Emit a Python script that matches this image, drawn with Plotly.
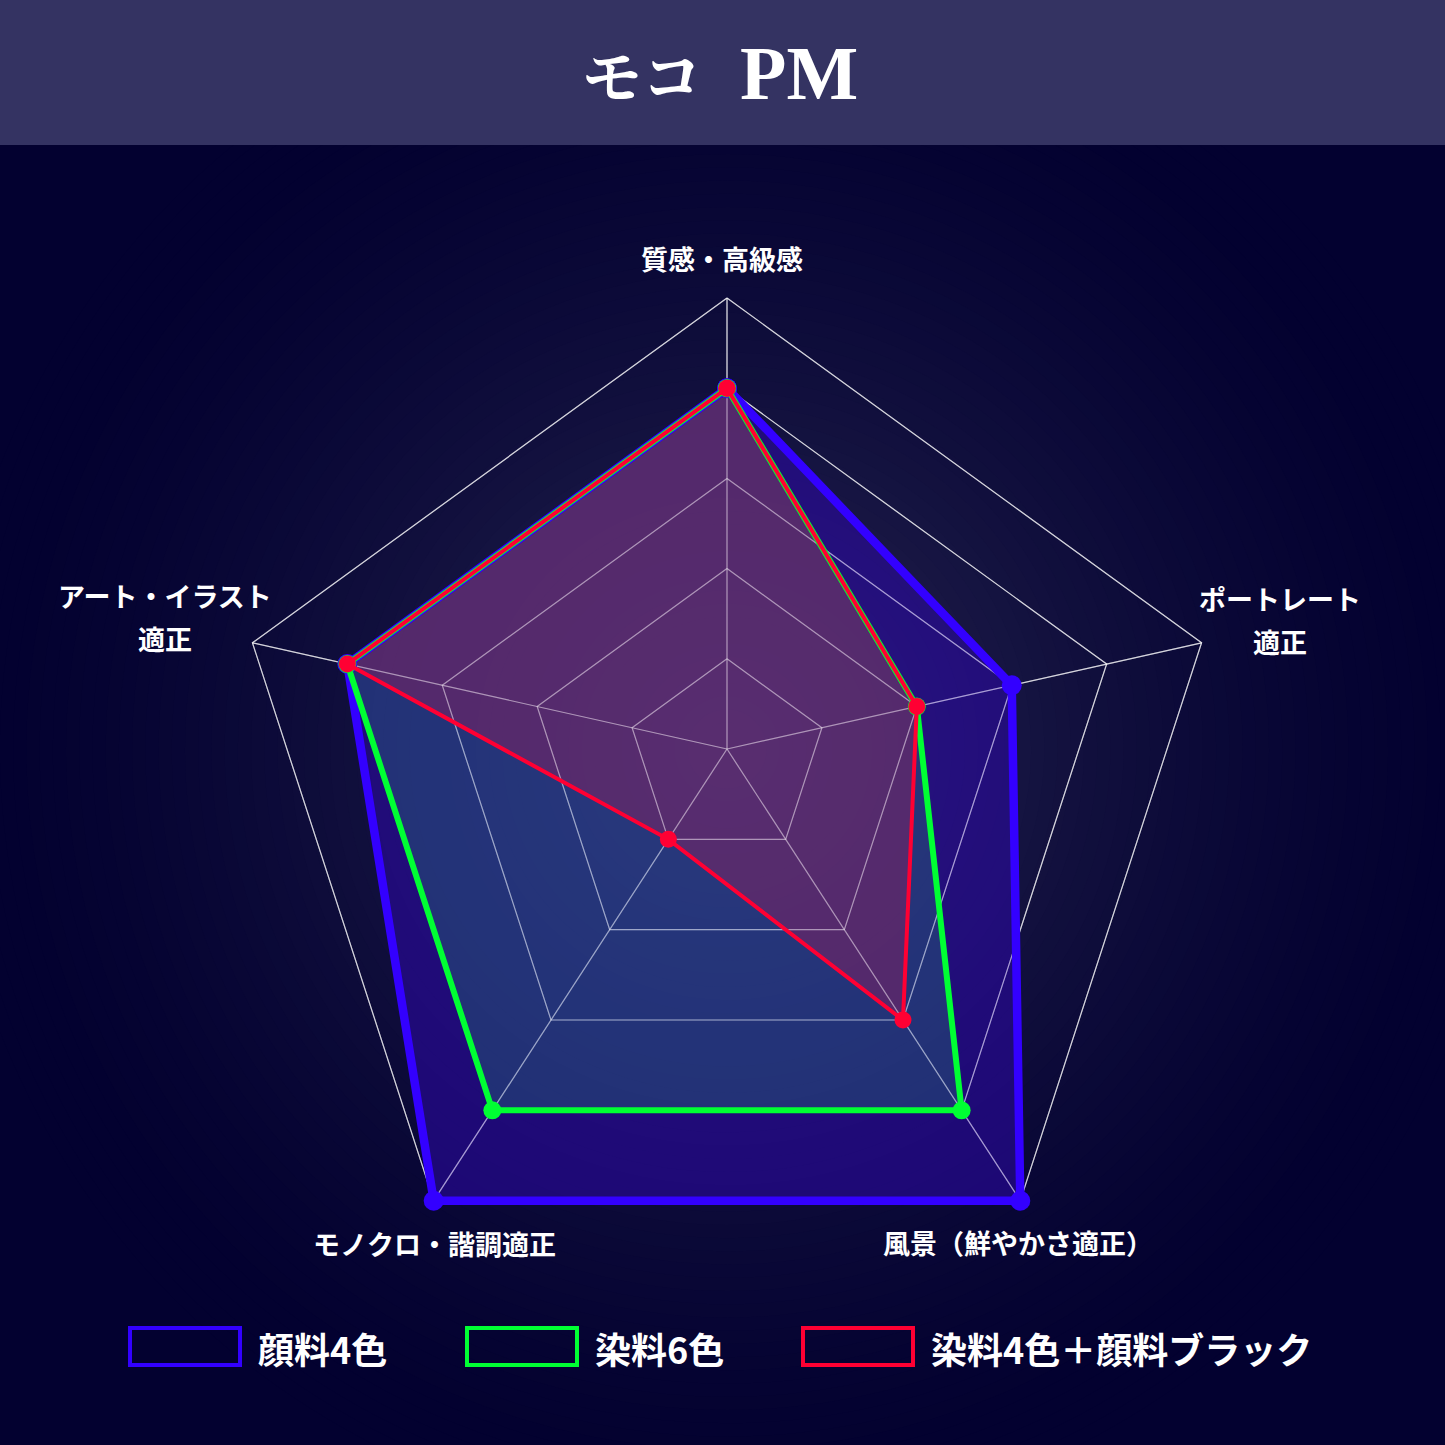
import numpy as np
import plotly.graph_objects as go

# ---------------- data ----------------
title_main = "モコ"
title_model = "PM"
categories = ["質感・高級感", "ポートレート<br>適正", "風景（鮮やかさ適正）",
              "モノクロ・諧調適正", "アート・イラスト<br>適正"]
series_names = ["顔料4色", "染料6色", "染料4色＋顔料ブラック"]
pigment4 = [4, 3, 5, 5, 4]
dye6 = [4, 2, 4, 4, 4]
dye4_black = [4, 2, 3, 1, 4]
grid_levels = [1, 2, 3, 4, 5]
r_max = 5

# ---------------- styles / layout constants ----------------
W = H = 1445
CX, CY = 727, 749                 # origin of the radar grid
PCX, PCY, PR = 727, 797, 499      # outer pentagon centre / radius
ang = np.deg2rad([90, 18, -54, -126, 162])
VX = PCX + PR * np.cos(ang)
VY = PCY - PR * np.sin(ang)

line_colors = ["#3300ff", "#00ff33", "#ff0033"]
line_widths = [8.5, 6, 4]
marker_sizes = [20, 18, 17]
fill_colors = ["rgba(45,10,170,0.55)", "rgba(40,140,115,0.30)", "rgba(157,27,89,0.40)"]
label_pos = [(722, 258), (1280, 620), (1018, 1242), (434, 1243), (165, 617)]
line_gap = 43
legend_x = [130, 467, 803]
legend_y = (1328, 1365)
FONT = "Noto Sans CJK JP"


def project(vals):
    f = np.asarray(vals, dtype=float) / r_max
    x = CX + f * (VX - CX)
    y = CY + f * (VY - CY)
    return list(x) + [x[0]], list(y) + [y[0]]


def grid_xy():
    gx, gy = [], []
    for lv in grid_levels:
        x, y = project([lv] * len(categories))
        gx += x + [None]
        gy += y + [None]
    for i in range(len(categories)):
        gx += [CX, VX[i], None]
        gy += [CY, VY[i], None]
    return gx, gy


fig = go.Figure()
gx, gy = grid_xy()
# bright grid beneath the fills
fig.add_trace(go.Scatter(x=gx, y=gy, mode="lines", line=dict(color="rgba(255,255,255,0.7)", width=1.2),
                         hoverinfo="skip", showlegend=False))
series = [pigment4, dye6, dye4_black]
for vals, fc in zip(series, fill_colors):
    x, y = project(vals)
    fig.add_trace(go.Scatter(x=x, y=y, mode="none", fill="toself", fillcolor=fc,
                             hoverinfo="skip", showlegend=False))
# dim grid above fills
fig.add_trace(go.Scatter(x=gx, y=gy, mode="lines", line=dict(color="rgba(255,255,255,0.42)", width=1.2),
                         hoverinfo="skip", showlegend=False))
for vals, name, lc, lw, ms in zip(series, series_names, line_colors, line_widths, marker_sizes):
    x, y = project(vals)
    fig.add_trace(go.Scatter(x=x, y=y, mode="lines+markers", name=name,
                             line=dict(color=lc, width=lw, shape="linear"),
                             marker=dict(color=lc, size=ms, line=dict(width=0)),
                             hoverinfo="skip", showlegend=False))

shapes = []
# radial background gradient
c_out = np.array([3, 1, 48])
c_in = np.array([44, 43, 86])
N = 60
Rbg = 780
for i in range(N):
    t = i / (N - 1)
    r = Rbg * (1 - t)
    w = t ** 1.6
    col = c_out + (c_in - c_out) * w
    shapes.append(dict(type="circle", xref="x", yref="y", layer="below",
                       x0=CX - r, x1=CX + r, y0=CY - r, y1=CY + r,
                       fillcolor="rgb(%d,%d,%d)" % tuple(col.astype(int)), line=dict(width=0)))
# title bar
shapes.append(dict(type="rect", xref="x", yref="y", layer="below", x0=0, x1=W, y0=0, y1=145,
                   fillcolor="#343362", line=dict(width=0)))
# legend swatches
for lx, lc in zip(legend_x, line_colors):
    shapes.append(dict(type="rect", xref="x", yref="y", layer="above",
                       x0=lx, x1=lx + 110, y0=legend_y[0], y1=legend_y[1],
                       fillcolor="rgba(0,0,0,0)", line=dict(color=lc, width=4)))

annotations = []
annotations.append(dict(x=720, y=73, xref="x", yref="y",
                        text="<span style='font-size:60px'>%s</span>  %s" % (title_main, title_model),
                        showarrow=False,
                        font=dict(family="Liberation Serif, Noto Serif CJK JP, Noto Sans CJK JP",
                                  size=76, color="white", weight="bold"),
                        xanchor="center", yanchor="middle"))
for cat, (px, py) in zip(categories, label_pos):
    lines = cat.split("<br>")
    n = len(lines)
    for k, ln in enumerate(lines):
        yy = py + (k - (n - 1) / 2) * line_gap
        annotations.append(dict(x=px, y=yy, xref="x", yref="y", text=ln, showarrow=False,
                                font=dict(family=FONT, size=27, color="white", weight="bold"),
                                xanchor="center", yanchor="middle"))
for lx, name in zip(legend_x, series_names):
    annotations.append(dict(x=lx + 126, y=(legend_y[0] + legend_y[1]) / 2 + 1, xref="x", yref="y",
                            text=name, showarrow=False,
                            font=dict(family=FONT, size=36, color="white", weight="bold"),
                            xanchor="left", yanchor="middle"))

fig.update_layout(
    width=W, height=H, margin=dict(l=0, r=0, t=0, b=0),
    paper_bgcolor="rgb(3,1,48)", plot_bgcolor="rgb(3,1,48)",
    xaxis=dict(range=[0, W], visible=False, domain=[0, 1], fixedrange=True),
    yaxis=dict(range=[H, 0], visible=False, domain=[0, 1], fixedrange=True),
    shapes=shapes, annotations=annotations, showlegend=False,
)
fig.write_html("out.html", config={"displayModeBar": False},
               post_script="document.body.style.margin='0';document.body.style.background='rgb(3,1,48)';")
